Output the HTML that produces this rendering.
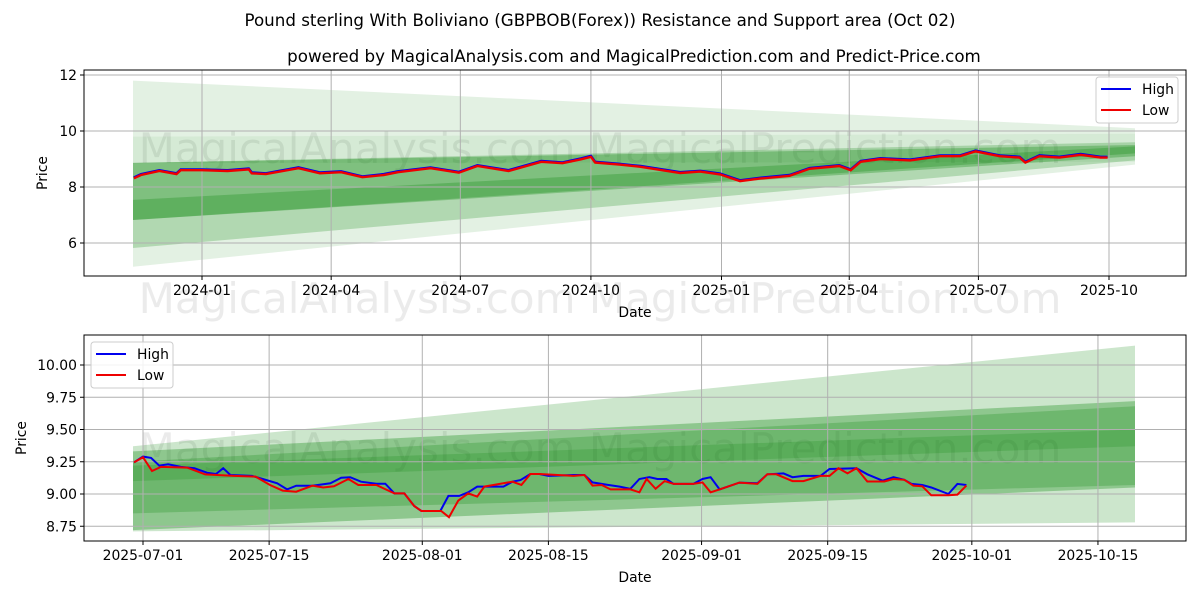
<!DOCTYPE html>
<html><head><meta charset="utf-8"><style>
body{margin:0;background:#fff;}
svg text{font-family:"DejaVu Sans","Liberation Sans",sans-serif;}
</style></head><body>
<svg id="s" width="1200" height="600" xmlns="http://www.w3.org/2000/svg">
<rect width="1200" height="600" fill="#fff"/>
<text x="600" y="26" text-anchor="middle" font-size="16.7">Pound sterling With Boliviano (GBPBOB(Forex)) Resistance and Support area (Oct 02)</text>
<text x="634" y="62" text-anchor="middle" font-size="16.7">powered by MagicalAnalysis.com and MagicalPrediction.com and Predict-Price.com</text>
<g id="top"></g><g id="bot"></g>
</svg>
<script>
// ---- top chart data (day offset from 2024-01-01)
const topDays=[-48,-43,-30,-18,-15,0,18,33,35,45,68,83,98,113,128,138,161,181,194,216,239,254,267,274,277,294,309,337,351,365,379,393,414,428,449,457,464,478,499,520,534,545,562,576,580,590,604,619,633,638];
const topVals=[8.31,8.43,8.57,8.46,8.6,8.6,8.57,8.63,8.49,8.46,8.67,8.49,8.53,8.35,8.43,8.53,8.67,8.51,8.75,8.57,8.9,8.85,8.99,9.08,8.87,8.8,8.72,8.5,8.55,8.45,8.21,8.3,8.4,8.65,8.75,8.6,8.9,9.0,8.95,9.1,9.1,9.27,9.1,9.05,8.87,9.1,9.05,9.15,9.05,9.05];
const topTickLabels=["2024-01","2024-04","2024-07","2024-10","2025-01","2025-04","2025-07","2025-10"];
const topTickDays=[0,91,182,274,366,456,547,639];
const topYTicks=[6,8,10,12];
const topBandTops=[[11.8,10.1],[9.8,9.9],[8.86,9.6],[8.86,9.5],[7.54,9.45]];
const topBandBots=[[5.15,8.8],[8.85,8.9],[5.82,8.95],[6.82,9.1],[6.82,9.2]];
const topBandAlpha=[0.11,0.06,0.22,0.28,0.25];
// ---- bottom chart data (day offset from 2025-07-01)
const hiDays=[-1,0,0.9,1.8,2.8,4.2,5.7,7.1,8.1,8.9,9.7,12.1,13.3,14.9,16,17,18.8,20.8,22,23,24.2,25.9,26.9,27.9,29,30.1,30.9,33,33.9,35.1,36.1,37.1,40,41,41.9,43,44,45,47.8,49,49.9,51.5,52.9,54.1,55.1,56.2,57.1,58.1,58.9,61.1,62.1,63,64,66.2,68.2,69.3,71.1,72.1,73.3,75.2,76.2,79.2,80.4,82.1,83.3,84.5,85.3,86.5,87.5,89.4,90.4,91.4];
const hiVals=[9.245,9.29,9.28,9.22,9.23,9.21,9.2,9.165,9.155,9.2,9.147,9.14,9.116,9.083,9.036,9.064,9.064,9.083,9.126,9.13,9.095,9.08,9.08,9.005,9.005,8.907,8.868,8.868,8.985,8.985,9.013,9.057,9.057,9.095,9.108,9.155,9.155,9.14,9.147,9.147,9.09,9.072,9.057,9.04,9.116,9.13,9.116,9.116,9.078,9.078,9.116,9.13,9.036,9.088,9.083,9.153,9.16,9.13,9.14,9.14,9.194,9.2,9.153,9.103,9.13,9.11,9.078,9.07,9.05,9.0,9.078,9.07];
const loDays=[-1,0,1,2,4.9,6.9,10.1,12.5,14.1,15.5,17,18.8,20,21.2,22.8,23.9,25.9,27.9,29,30.1,30.9,33.1,33.97,35,36.1,37.1,37.9,41,42,43,44,47.8,49,49.9,50.9,51.9,54.1,55.1,55.9,56.9,57.9,58.9,61.1,62.1,63,64.2,66.2,68.2,69.3,70.3,72.1,73.3,75.2,76.2,77.2,78.2,79.2,80.4,82.3,83.3,84.5,85.5,86.5,87.5,89.4,90.4,91.4];
const loVals=[9.245,9.285,9.178,9.21,9.205,9.152,9.14,9.135,9.07,9.026,9.018,9.064,9.05,9.06,9.116,9.07,9.07,9.005,9.005,8.907,8.868,8.868,8.82,8.95,9.005,8.98,9.057,9.095,9.07,9.155,9.155,9.14,9.147,9.065,9.07,9.036,9.036,9.013,9.116,9.04,9.1,9.078,9.078,9.09,9.013,9.04,9.088,9.078,9.153,9.153,9.1,9.1,9.14,9.14,9.2,9.16,9.2,9.097,9.097,9.116,9.11,9.065,9.06,8.99,8.99,8.995,9.065];
const botTickLabels=["2025-07-01","2025-07-15","2025-08-01","2025-08-15","2025-09-01","2025-09-15","2025-10-01","2025-10-15"];
const botTickDays=[0,14,31,45,62,76,92,106];
const botYTicks=[8.75,9.0,9.25,9.5,9.75,10.0];
const botBandTops=[[9.37,10.15],[9.33,9.72],[9.25,9.68],[9.22,9.5]];
const botBandBots=[[8.71,8.78],[8.72,9.05],[8.85,9.07],[9.1,9.37]];
const botBandAlpha=[0.2,0.3,0.22,0.18];

const NS="http://www.w3.org/2000/svg";
function mk(tag,attrs,parent){const e=document.createElementNS(NS,tag);for(const k in attrs)e.setAttribute(k,attrs[k]);parent.appendChild(e);return e;}

function drawChart(g,o){
  const X=o.x, Y=o.y;
  const wm=mk('text',{x:600,y:o.wmY,'text-anchor':'middle','font-size':42,fill:'#000','fill-opacity':0.08},g);
  wm.textContent="MagicalAnalysis.com    MagicalPrediction.com";
  
  
  for(let i=0;i<o.tops.length;i++){
    const t=o.tops[i],b=o.bots[i];
    const p=mk('polygon',{points:`${o.bx0},${Y(t[0])} ${o.bx1},${Y(t[1])} ${o.bx1},${Y(b[1])} ${o.bx0},${Y(b[0])}`,fill:'#008000','fill-opacity':o.alpha[i]},g);
    
    
  }
  o.tickDays.forEach((d,i)=>{
    const x=X(d);
    mk('line',{x1:x,x2:x,y1:o.T,y2:o.B,stroke:'#b0b0b0','stroke-width':1},g);
    mk('line',{x1:x,x2:x,y1:o.B,y2:o.B+4,stroke:'#000'},g);
    const t=mk('text',{x:x,y:o.B+19,'text-anchor':'middle','font-size':13.9},g);
    t.textContent=o.tickLabels[i];
    
    
  });
  o.yTicks.forEach(v=>{
    const y=Y(v);
    mk('line',{x1:o.L,x2:o.R,y1:y,y2:y,stroke:'#b0b0b0','stroke-width':1},g);
    mk('line',{x1:o.L-4,x2:o.L,y1:y,y2:y,stroke:'#000'},g);
    const t=mk('text',{x:o.L-7,y:y+5,'text-anchor':'end','font-size':13.9},g);
    t.textContent=o.yfmt(v);
    
    
  });
  const pts=(ds,vs)=>ds.map((d,i)=>`${X(d).toFixed(1)},${Y(vs[i]).toFixed(1)}`).join(' ');
  const h=mk('polyline',{points:pts(o.hd,o.hv),fill:'none',stroke:'#0000ee','stroke-width':o.lw},g);
  
  
  const l=mk('polyline',{points:pts(o.ld,o.lv),fill:'none',stroke:'#ee0000','stroke-width':o.lw},g);
  
  
  const f=mk('rect',{x:o.L,y:o.T,width:o.R-o.L,height:o.B-o.T,fill:'none',stroke:'#000','stroke-width':1},g);
  
  
  const xl=mk('text',{x:(o.L+o.R)/2,y:o.B+41,'text-anchor':'middle','font-size':13.9},g);
  xl.textContent='Date';
  
  
  const yl=mk('text',{x:0,y:0,'text-anchor':'middle','font-size':13.9,transform:`translate(${o.ylx},${(o.T+o.B)/2}) rotate(-90)`},g);
  yl.textContent='Price';
  
  
  const lg=mk('g',{},g);
  
  
  mk('rect',{x:o.lgx,y:o.lgy,width:82,height:46,rx:3,fill:'#fff','fill-opacity':0.85,stroke:'#ccc'},lg);
  [['High','#0000ee'],['Low','#ee0000']].forEach((e,i)=>{
    const yy=o.lgy+12+i*21;
    mk('line',{x1:o.lgx+5,x2:o.lgx+35,y1:yy,y2:yy,stroke:e[1],'stroke-width':2},lg);
    const t=mk('text',{x:o.lgx+46,y:yy+5,'font-size':13.9},lg);
    t.textContent=e[0];
    
    
  });
}
drawChart(document.getElementById('top'),{
  L:84,R:1186,T:70,B:276,
  x:d=>202+d*1.4194, y:v=>187-(v-8)*28,
  bx0:133,bx1:1135,tops:topBandTops,bots:topBandBots,alpha:topBandAlpha,
  tickDays:topTickDays,tickLabels:topTickLabels,yTicks:topYTicks,yfmt:v=>String(v),
  hd:topDays,hv:topVals.map(v=>v+0.03),ld:topDays,lv:topVals,lw:2.4,
  ylx:47,lgx:1096,lgy:77,wmY:163
});
drawChart(document.getElementById('bot'),{
  L:84,R:1186,T:335,B:541,
  x:d=>143+d*9.009, y:v=>494-(v-9)*129,
  bx0:133,bx1:1135,tops:botBandTops,bots:botBandBots,alpha:botBandAlpha,
  tickDays:botTickDays,tickLabels:botTickLabels,yTicks:botYTicks,yfmt:v=>v.toFixed(2),
  hd:hiDays,hv:hiVals,ld:loDays,lv:loVals,lw:2,
  ylx:26,lgx:91,lgy:342,wmY:463
});
const w2=document.createElementNS(NS,'text');
w2.setAttribute('x','600');w2.setAttribute('y','313');w2.setAttribute('text-anchor','middle');w2.setAttribute('font-size','42');w2.setAttribute('fill-opacity','0.08');


w2.textContent="MagicalAnalysis.com    MagicalPrediction.com";
document.getElementById('s').appendChild(w2);
</script>
</body></html>
